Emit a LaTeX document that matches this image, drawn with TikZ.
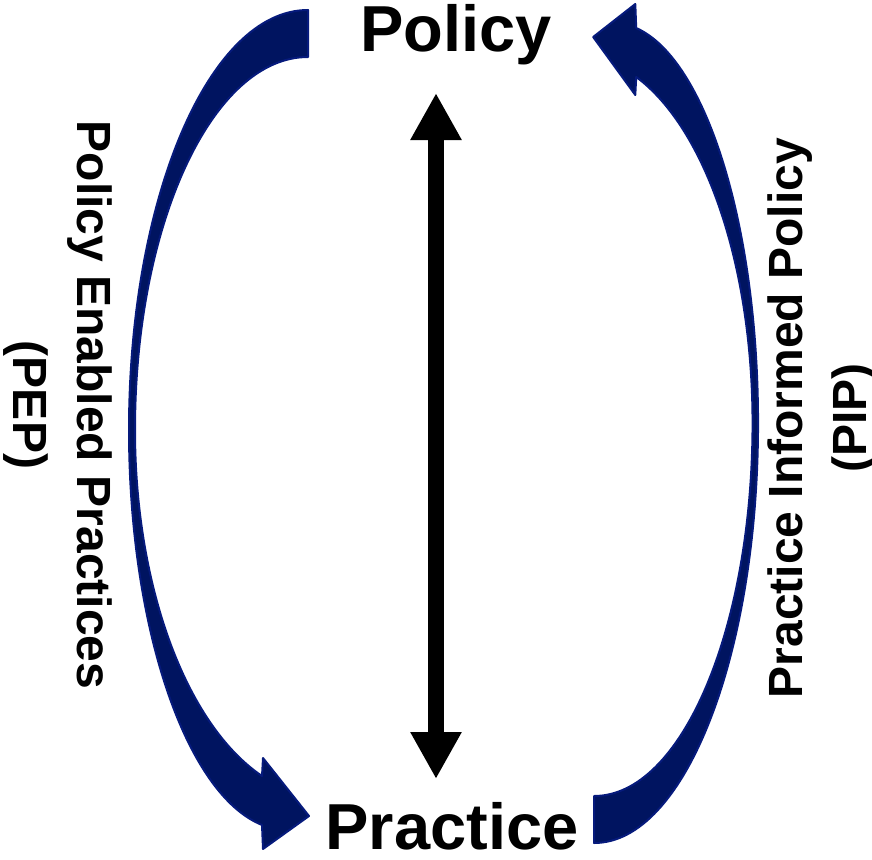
\documentclass[tikz,border=0pt]{standalone}
\usepackage{fontspec}
\setmainfont{Liberation Sans}
\usetikzlibrary{arrows.meta}
\definecolor{navyfill}{RGB}{0,20,96}
\definecolor{navyedge}{RGB}{6,26,124}
\tikzset{
  bigarrow/.style={fill=navyfill, draw=navyedge, line width=2pt, line join=round},
  title/.style={font=\fontsize{65}{70}\selectfont\bfseries, inner sep=0pt},
  sidelabel/.style={font=\fontsize{48}{64}\selectfont\bfseries, align=center, inner sep=0pt},
  twoway/.style={line width=16pt, {Triangle[length=47pt,width=48pt]}-{Triangle[length=47pt,width=48pt]}},
  pics/curvedarrow/.style={code={
    \path[bigarrow] (308,10) .. controls (209.1,10) and (129,198) .. (129,430)
      .. controls (129,626.2) and (185.5,794) .. (262,825)
      -- (263,849) -- (309,816) -- (263,758) -- (262,776)
      .. controls (185.7,724.3) and (135,586) .. (135,430)
      .. controls (135,224) and (212.5,57) .. (308,57) -- cycle;
  }}
}
\begin{document}
\begin{tikzpicture}[x=1pt,y=-1pt]
\useasboundingbox (0,0) rectangle (872,859);
% curved arrows
\pic (pep) at (0,0) {curvedarrow};
\pic[xscale=-0.916,yscale=-1] (pip) at (876.2,853) {curvedarrow};
% titles
\node[title, anchor=base] (policy) at (456,52) {Policy};
\node[title, anchor=base] (practice) at (452,849) {Practice};
% side labels
\node[sidelabel, rotate=-90] (peplabel) at (57.5,405) {Policy Enabled Practices\\(PEP)};
\node[sidelabel, rotate=90] (piplabel) at (822.5,418) {Practice Informed Policy\\(PIP)};
% two-way arrow
\coordinate (ptop) at (436,93);
\coordinate (pbot) at (436,779);
\draw[twoway] (ptop) -- (pbot);
\end{tikzpicture}
\end{document}
